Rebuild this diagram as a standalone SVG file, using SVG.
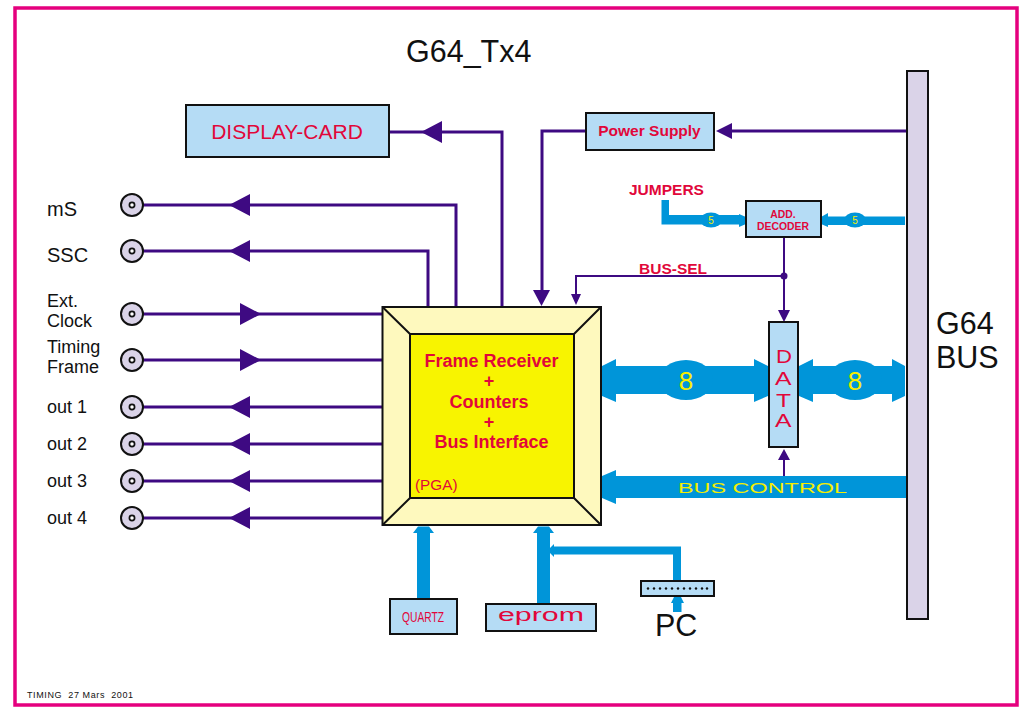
<svg xmlns="http://www.w3.org/2000/svg" width="1026" height="707" viewBox="0 0 1026 707">
<style>
text{font-family:"Liberation Sans",Arial,sans-serif}
.box{fill:#b5dcf5;stroke:#111;stroke-width:2}
.k{fill:#111}
.r{fill:#e1073a}
.y{fill:#f5ee00}
.b{font-weight:bold}
.m{text-anchor:middle}
.p{fill:none;stroke:#3e0a82;stroke-width:3}
.p2{fill:none;stroke:#3e0a82;stroke-width:2}
.ph{fill:#3e0a82}
.bl{fill:#0095d9}
.bs{fill:none;stroke:#0095d9}
.jack{fill:#dad3e8;stroke:#111;stroke-width:2}
.hole{fill:#fff;stroke:#111;stroke-width:1.700}
.l{font-size:18px}
.pin{fill:#111}
</style>
<rect width="1026" height="707" fill="#fff"/>
<rect x="15" y="8" width="1002" height="697" fill="none" stroke="#e5007e" stroke-width="3.5"/>
<text class="k" x="406" y="62" font-size="30.500">G64_Tx4</text>
<text class="k" x="27" y="698" font-size="9" letter-spacing="0.6" style="white-space:pre">TIMING  27 Mars  2001</text>

<g id="connectors">
<path class="p" d="M132 205H456V307M132 251H428V307M132 314H382M132 360H382M132 407H382M132 444H382M132 481H382M132 518H382M389 132H502V307M586 131H542V295M907 131H725"/>
<path class="p2" d="M784 237V315M784 276H576V296M784 476V455"/>
<circle class="ph" cx="784" cy="276" r="3.500"/>
<path class="ph" d="M229 205L250 194V216ZM229 251L250 240V262ZM261 314L240 303V325ZM261 360L240 349V371ZM229 407L250 396V418ZM229 444L250 433V455ZM229 481L250 470V492ZM229 518L250 507V529ZM421 132L442 121V143ZM541.500 306L533 290H550ZM716 131L732 123V139ZM576 305L571 294H581ZM784 322L778 310H790ZM784 449L778 460H790Z"/>
<path class="bl" d="M602 366L616 359V366H754V359L768 366V396L754 402V394H616V402L602 396ZM799 366L813 359V366H892V359L905 366V396L892 402V394H813V402L799 396ZM602 476L616 470V476H906V498H616V504L602 498ZM417 599V533H413L418 526.500H429L434 533H430V599ZM537 604V533H533L538 526.500H549L554 533H550V604Z"/>
<ellipse class="bl" cx="686" cy="380" rx="27" ry="20"/>
<ellipse class="bl" cx="855" cy="380" rx="27" ry="20"/>
<path class="bl" d="M661.500 200H669V215H739V214L746 217V224L739 227V224.500H661.500ZM905 216.500H828V213L821 217V224L828 227V225H905Z"/>
<ellipse class="bl" cx="711" cy="220" rx="11" ry="7.500"/>
<ellipse class="bl" cx="855" cy="220" rx="11" ry="7.500"/>
<path class="bl" d="M673 581V554.500H554V557L550 553V548L554 544V546.500H681V581ZM673 612V603H671L674 597H681L684 603H681.500V612Z"/>
<text class="y m" x="686" y="390" font-size="26">8</text>
<text class="y m" x="855" y="390" font-size="26">8</text>
<text class="y m" x="711" y="224" font-size="10">5</text>
<text class="y m" x="855" y="224" font-size="10">5</text>
<text class="y" x="678" y="493" font-size="15" textLength="169" lengthAdjust="spacingAndGlyphs">BUS CONTROL</text>
</g>

<g id="bus"><rect x="907" y="71" width="21" height="548" fill="#dad3e8" stroke="#111" stroke-width="2"/>
<text class="k" x="936" y="334" font-size="30.500">G64</text><text class="k" x="936" y="368" font-size="30.500">BUS</text></g>

<g id="display"><rect class="box" x="186" y="105" width="203" height="52"/><text class="r m" x="287" y="139" font-size="21">DISPLAY-CARD</text></g>
<g id="power"><rect class="box" x="586" y="113" width="128" height="37"/><text class="r b m" x="649.500" y="136" font-size="15.500">Power Supply</text></g>
<g id="jumpers"><text class="r b" x="629" y="195" font-size="15.500">JUMPERS</text></g>
<g id="decoder"><rect class="box" x="746" y="201" width="75" height="36"/><text class="r b m" x="783" y="218" font-size="10.400">ADD.</text><text class="r b m" x="783" y="230" font-size="10.400">DECODER</text></g>
<g id="bussel"><text class="r b" x="639" y="274" font-size="15.500">BUS-SEL</text></g>
<g id="data"><rect class="box" x="769" y="322" width="29" height="125"/>
<text class="r" x="776" y="363" font-size="19" textLength="16" lengthAdjust="spacingAndGlyphs">D</text>
<text class="r" x="775" y="385" font-size="19" textLength="16.500" lengthAdjust="spacingAndGlyphs">A</text>
<text class="r" x="776" y="407" font-size="19" textLength="15" lengthAdjust="spacingAndGlyphs">T</text>
<text class="r" x="775" y="427" font-size="19" textLength="16.500" lengthAdjust="spacingAndGlyphs">A</text></g>

<g id="chip">
<rect x="382.500" y="307" width="218.500" height="218" fill="#fef9be" stroke="#111" stroke-width="2"/>
<path d="M382.500 307L410 334M601 307L574 334M382.500 525L410 498M601 525L574 498" stroke="#111" stroke-width="2" fill="none"/>
<rect x="410" y="334" width="164" height="164" fill="#f8f400" stroke="#111" stroke-width="2"/>
<text class="r b m" x="491.500" y="367" font-size="18">Frame Receiver</text>
<text class="r b m" x="489" y="387" font-size="18">+</text>
<text class="r b m" x="489" y="408" font-size="18">Counters</text>
<text class="r b m" x="489" y="428" font-size="18">+</text>
<text class="r b m" x="491.500" y="448" font-size="18">Bus Interface</text>
<text class="r" x="415" y="490" font-size="15.300">(PGA)</text>
</g>

<g id="j-ms"><circle class="jack" cx="132" cy="205" r="11"/><circle class="hole" cx="132" cy="205" r="2.600"/><text class="k" x="47" y="216" font-size="20">mS</text></g>
<g id="j-ssc"><circle class="jack" cx="132" cy="251" r="11"/><circle class="hole" cx="132" cy="251" r="2.600"/><text class="k" x="47" y="262" font-size="20">SSC</text></g>
<g id="j-ext"><circle class="jack" cx="132" cy="314" r="11"/><circle class="hole" cx="132" cy="314" r="2.600"/><text class="k l" x="47" y="307">Ext.</text><text class="k l" x="47" y="327">Clock</text></g>
<g id="j-tf"><circle class="jack" cx="132" cy="360" r="11"/><circle class="hole" cx="132" cy="360" r="2.600"/><text class="k l" x="47" y="353">Timing</text><text class="k l" x="47" y="373">Frame</text></g>
<g id="j-o1"><circle class="jack" cx="132" cy="407" r="11"/><circle class="hole" cx="132" cy="407" r="2.600"/><text class="k l" x="47" y="413">out 1</text></g>
<g id="j-o2"><circle class="jack" cx="132" cy="444" r="11"/><circle class="hole" cx="132" cy="444" r="2.600"/><text class="k l" x="47" y="450">out 2</text></g>
<g id="j-o3"><circle class="jack" cx="132" cy="481" r="11"/><circle class="hole" cx="132" cy="481" r="2.600"/><text class="k l" x="47" y="487">out 3</text></g>
<g id="j-o4"><circle class="jack" cx="132" cy="518" r="11"/><circle class="hole" cx="132" cy="518" r="2.600"/><text class="k l" x="47" y="524">out 4</text></g>

<g id="quartz"><rect class="box" x="390" y="599" width="67" height="35"/><text class="r" x="402" y="622" font-size="14" textLength="42" lengthAdjust="spacingAndGlyphs">QUARTZ</text></g>
<g id="eprom"><rect class="box" x="486" y="604" width="110" height="27"/><text class="r" x="498" y="621" font-size="18" textLength="86" lengthAdjust="spacingAndGlyphs">eprom</text></g>
<g id="pc"><rect class="box" x="641" y="581" width="73" height="15"/>
<circle class="pin" cx="648" cy="588.500" r="1.200"/><circle class="pin" cx="654" cy="588.500" r="1.200"/><circle class="pin" cx="660" cy="588.500" r="1.200"/><circle class="pin" cx="666" cy="588.500" r="1.200"/><circle class="pin" cx="672" cy="588.500" r="1.200"/><circle class="pin" cx="678" cy="588.500" r="1.200"/><circle class="pin" cx="684" cy="588.500" r="1.200"/><circle class="pin" cx="690" cy="588.500" r="1.200"/><circle class="pin" cx="696" cy="588.500" r="1.200"/><circle class="pin" cx="702" cy="588.500" r="1.200"/><circle class="pin" cx="707" cy="588.500" r="1.200"/>
<text class="k" x="655" y="636" font-size="30.500">PC</text></g>
</svg>
